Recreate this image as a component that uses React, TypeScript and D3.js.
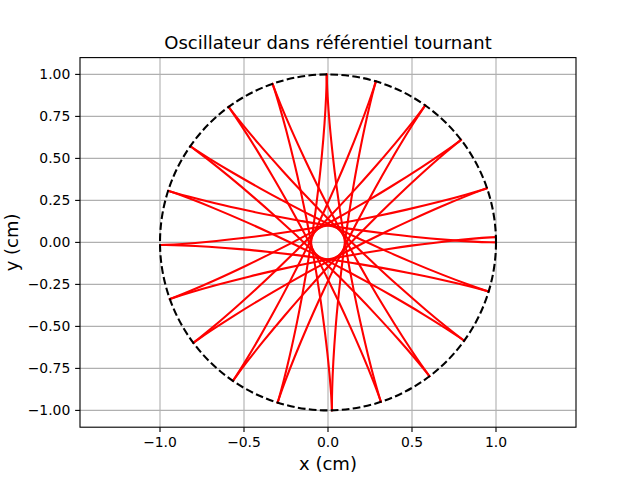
import React from "react";
import * as d3 from "d3";

// One half-swing of the trajectory, read from the first chord (from (1,0) to (-0.95,0.31))
const swingTemplate: [number, number][] = [
  [1.0, 0.0],
  [0.9663, 0.0006],
  [0.8674, 0.0046],
  [0.7104, 0.015],
  [0.5063, 0.0337],
  [0.3508, 0.0513],
  [0.1856, 0.073],
  [0.0155, 0.0983],
  [-0.1541, 0.1265],
  [-0.3181, 0.1567],
  [-0.4714, 0.1878],
  [-0.6714, 0.2327],
  [-0.824, 0.2711],
  [-0.9193, 0.2977],
  [-0.9515, 0.3076],
];

// Angle (degrees) of the starting cusp of each successive half-swing
const swingStartAngles: number[] = [
  0, 162.09, 324.18, 126.27, 288.36, 90.45, 252.54, 54.63, 216.72, 18.81,
  180.9, 342.99, 145.08, 307.17, 109.26, 271.35, 73.44, 235.53, 37.62, 199.71,
];

const circleRadius = 1;
const xTicks = [-1, -0.5, 0, 0.5, 1];
const yTicks = [-1, -0.75, -0.5, -0.25, 0, 0.25, 0.5, 0.75, 1];
const yDomain: [number, number] = [-1.1, 1.1];
const title = "Oscillateur dans référentiel tournant";
const xLabel = "x (cm)";
const yLabel = "y (cm)";

export default function App() {
  const W = 640;
  const H = 480;
  const L = 80;
  const R = 576;
  const T = 57.6;
  const B = 427.2;
  const ppu = (B - T) / (yDomain[1] - yDomain[0]);
  const xHalf = (R - L) / 2 / ppu;
  const x = d3.scaleLinear().domain([-xHalf, xHalf]).range([L, R]);
  const y = d3.scaleLinear().domain(yDomain).range([B, T]);
  const line = d3
    .line<[number, number]>()
    .x((d) => x(d[0]))
    .y((d) => y(d[1]))
    .curve(d3.curveCatmullRom.alpha(0.5));
  const cx = x(0);
  const cy = y(0);
  const r = x(circleRadius) - x(0);
  const circ = d3.path();
  circ.moveTo(cx + r, cy);
  circ.arc(cx, cy, r, 0, -2 * Math.PI, true);
  const fmtX = d3.format(".1f");
  const fmtY = d3.format(".2f");
  const font = "DejaVu Sans, sans-serif";
  const tickLen = 4.86;
  const pad = 4.86;
  const tickFs = 13.9;
  const swingPath = line(swingTemplate) || "";

  return (
    <svg
      width={W}
      height={H}
      style={{ position: "absolute", left: 0, top: 0, background: "#fff" }}
      fontFamily={font}
    >
      <rect x={0} y={0} width={W} height={H} fill="#fff" />
      {/* grid */}
      <g stroke="#b0b0b0" strokeWidth={1.11}>
        {xTicks.map((t) => (
          <line key={"gx" + t} x1={x(t)} x2={x(t)} y1={T} y2={B} />
        ))}
        {yTicks.map((t) => (
          <line key={"gy" + t} x1={L} x2={R} y1={y(t)} y2={y(t)} />
        ))}
      </g>
      {/* trajectory */}
      <g fill="none" stroke="#ff0000" strokeWidth={2.08} strokeLinecap="round" strokeLinejoin="round">
        {swingStartAngles.map((a, i) => (
          <path key={"s" + i} d={swingPath} transform={`rotate(${-a} ${cx} ${cy})`} />
        ))}
      </g>
      {/* circle */}
      <path d={circ.toString()} fill="none" stroke="#000" strokeWidth={2.08} strokeDasharray="7.7 3.33" />
      {/* spines */}
      <rect x={L} y={T} width={R - L} height={B - T} fill="none" stroke="#000" strokeWidth={1.11} />
      {/* x ticks */}
      <g>
        {xTicks.map((t) => (
          <g key={"tx" + t}>
            <line x1={x(t)} x2={x(t)} y1={B} y2={B + tickLen} stroke="#000" strokeWidth={1.11} />
            <text x={x(t)} y={B + tickLen + pad + tickFs * 0.76} fontSize={tickFs} textAnchor="middle" fill="#000">
              {fmtX(t)}
            </text>
          </g>
        ))}
      </g>
      {/* y ticks */}
      <g>
        {yTicks.map((t) => (
          <g key={"ty" + t}>
            <line x1={L - tickLen} x2={L} y1={y(t)} y2={y(t)} stroke="#000" strokeWidth={1.11} />
            <text
              x={L - tickLen - pad}
              y={y(t) + tickFs * 0.36}
              fontSize={tickFs}
              textAnchor="end"
              fill="#000"
            >
              {fmtY(t)}
            </text>
          </g>
        ))}
      </g>
      <text x={(L + R) / 2} y={T - 8.3} fontSize={18} textAnchor="middle" fill="#000">
        {title}
      </text>
      <text x={(L + R) / 2} y={470} fontSize={18} textAnchor="middle" fill="#000">
        {xLabel}
      </text>
      <text
        transform={`translate(17.7 ${(T + B) / 2}) rotate(-90)`}
        fontSize={18}
        textAnchor="middle"
        fill="#000"
      >
        {yLabel}
      </text>
    </svg>
  );
}
